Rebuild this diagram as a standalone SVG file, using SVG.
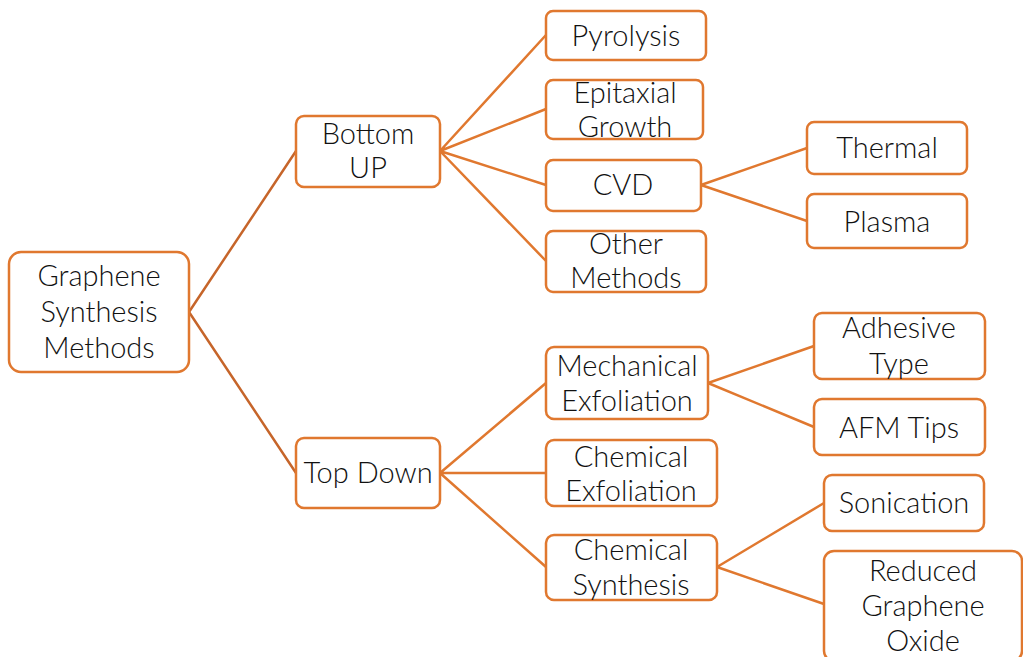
<svg xmlns="http://www.w3.org/2000/svg" width="1023" height="657" viewBox="0 0 1023 657">
<style>
.box{fill:#fff;stroke:#E0782F;stroke-width:2.5}
.t{font-family:Lato,"Open Sans",sans-serif;font-weight:300;font-size:29px;fill:#111;text-anchor:middle;dominant-baseline:central}
.c{stroke:#E0782F;stroke-width:2.5;fill:none}
.c0{stroke:#C6652A;stroke-width:2.5;fill:none}
</style>
<rect width="1023" height="657" fill="#fff"/>
<g id="connectors">
<path class="c0" d="M189 312 L296 151 M189 312 L296 473"/>
<path class="c" d="M440 151 L546 35 M440 151 L546 109 M440 151 L546 185 M440 151 L546 261"/>
<path class="c" d="M701 185 L807 148 M701 185 L807 221"/>
<path class="c" d="M440 473 L546 383 M440 473 L546 473 M440 473 L546 567"/>
<path class="c" d="M708 383 L814 346 M708 383 L814 427"/>
<path class="c" d="M717 567 L824 503 M717 567 L824 604"/>
</g>
<g id="root"><rect class="box" x="9" y="252" width="180" height="120" rx="12"/><text class="t"><tspan x="99" y="274">Graphene</tspan><tspan x="99" y="310">Synthesis</tspan><tspan x="99" y="346">Methods</tspan></text></g>
<g id="bottomup"><rect class="box" x="296" y="116" width="144" height="71" rx="8"/><text class="t"><tspan x="368" y="132">Bottom</tspan><tspan x="368" y="166">UP</tspan></text></g>
<g id="topdown"><rect class="box" x="296" y="438" width="144" height="70" rx="8"/><text class="t"><tspan x="368" y="471">Top Down</tspan></text></g>
<g id="pyrolysis"><rect class="box" x="546" y="11" width="160" height="49" rx="7"/><text class="t"><tspan x="626" y="34">Pyrolysis</tspan></text></g>
<g id="epitaxial"><rect class="box" x="546" y="80" width="157" height="59" rx="7"/><text class="t"><tspan x="625" y="91">Epitaxial</tspan><tspan x="625" y="125">Growth</tspan></text></g>
<g id="cvd"><rect class="box" x="546" y="160" width="155" height="51" rx="7"/><text class="t"><tspan x="623" y="183">CVD</tspan></text></g>
<g id="other"><rect class="box" x="546" y="231" width="160" height="61" rx="7"/><text class="t"><tspan x="626" y="242">Other</tspan><tspan x="626" y="276">Methods</tspan></text></g>
<g id="thermal"><rect class="box" x="807" y="122" width="160" height="52" rx="7"/><text class="t"><tspan x="887" y="146">Thermal</tspan></text></g>
<g id="plasma"><rect class="box" x="807" y="194" width="160" height="54" rx="7"/><text class="t"><tspan x="887" y="220">Plasma</tspan></text></g>
<g id="mechanical"><rect class="box" x="546" y="347" width="162" height="72" rx="8"/><text class="t"><tspan x="627" y="364">Mechanical</tspan><tspan x="627" y="399">Exfoliation</tspan></text></g>
<g id="chemexf"><rect class="box" x="546" y="440" width="171" height="66" rx="8"/><text class="t"><tspan x="631" y="455">Chemical</tspan><tspan x="631" y="489">Exfoliation</tspan></text></g>
<g id="chemsyn"><rect class="box" x="546" y="535" width="171" height="65" rx="8"/><text class="t"><tspan x="631" y="548">Chemical</tspan><tspan x="631" y="583">Synthesis</tspan></text></g>
<g id="adhesive"><rect class="box" x="814" y="313" width="171" height="66" rx="8"/><text class="t"><tspan x="899" y="326">Adhesive</tspan><tspan x="899" y="362">Type</tspan></text></g>
<g id="afm"><rect class="box" x="814" y="399" width="171" height="56" rx="8"/><text class="t"><tspan x="899" y="426">AFM Tips</tspan></text></g>
<g id="sonication"><rect class="box" x="824" y="475" width="160" height="56" rx="8"/><text class="t"><tspan x="904" y="501">Sonication</tspan></text></g>
<g id="reduced"><rect class="box" x="824" y="551" width="198" height="110" rx="10"/><text class="t"><tspan x="923" y="569">Reduced</tspan><tspan x="923" y="604">Graphene</tspan><tspan x="923" y="639">Oxide</tspan></text></g>
</svg>
